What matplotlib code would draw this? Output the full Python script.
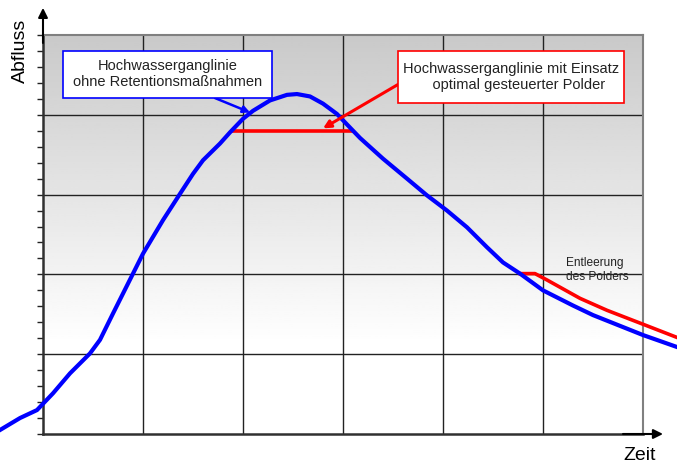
import numpy as np
import matplotlib.pyplot as plt
from matplotlib.ticker import MultipleLocator
from matplotlib.patches import Rectangle

plt.rcParams['font.family'] = ['Liberation Sans', 'DejaVu Sans']

# Hydrograph without retention (time, discharge in grid units)
t_ohne = [-0.43, -0.23, -0.06, 0.10, 0.27, 0.47, 0.57, 0.70, 0.90, 1.00,
          1.20, 1.37, 1.50, 1.60, 1.77, 1.87, 2.00, 2.10, 2.27, 2.44, 2.54,
          2.67, 2.80, 2.94, 3.07, 3.17, 3.40, 3.64, 3.84, 4.04, 4.24, 4.44,
          4.60, 4.77, 5.00, 5.30, 5.50, 5.80, 6.00, 6.34]
q_ohne = [0.05, 0.20, 0.30, 0.51, 0.76, 1.01, 1.18, 1.51, 2.01, 2.26,
          2.68, 3.01, 3.26, 3.43, 3.64, 3.78, 3.95, 4.05, 4.18, 4.25, 4.26,
          4.23, 4.14, 4.01, 3.84, 3.71, 3.45, 3.20, 2.99, 2.80, 2.59, 2.34,
          2.15, 2.01, 1.80, 1.61, 1.49, 1.34, 1.24, 1.09]

# Hydrograph with polder: capped peak and emptying tail
t_kappe = [1.89, 3.10]
q_kappe = [3.80, 3.80]
t_entl = [4.77, 4.92, 5.04, 5.37, 5.64, 5.97, 6.34]
q_entl = [2.01, 2.01, 1.93, 1.70, 1.55, 1.39, 1.21]

W, H = 677, 467
fig = plt.figure(figsize=(W / 100, H / 100), dpi=100)
ax = fig.add_axes([43 / W, (H - 434) / H, 600 / W, 399 / H])
ax.set_xlim(0, 6)
ax.set_ylim(0, 5)

# gray gradient background, white at the bottom, gray at the top
grad = np.clip(np.linspace(1.06, 0.79, 200), 0, 1).reshape(-1, 1)
ax.imshow(grad, extent=(0, 6, 0, 5), aspect='auto', cmap='gray',
          vmin=0, vmax=1, origin='lower', zorder=0)

for xv in range(1, 6):
    ax.axvline(xv, color='#222222', lw=1.0, zorder=1)
for yv in range(1, 5):
    ax.axhline(yv, color='#222222', lw=1.0, zorder=1)

for s in ['top', 'right']:
    ax.spines[s].set_color('#808080')
    ax.spines[s].set_linewidth(1.5)
for s in ['left', 'bottom']:
    ax.spines[s].set_color('#303030')
    ax.spines[s].set_linewidth(1.8)

ax.yaxis.set_major_locator(MultipleLocator(1))
ax.yaxis.set_minor_locator(MultipleLocator(0.2))
ax.tick_params(axis='y', which='both', direction='out', length=4, width=1,
               labelleft=False, color='#222222')
ax.set_xticks([])

ax.plot(t_kappe, q_kappe, color='#ff0000', lw=2.6, clip_on=False, zorder=3,
        solid_capstyle='butt')
ax.plot(t_entl, q_entl, color='#ff0000', lw=2.6, clip_on=False, zorder=3,
        solid_joinstyle='round')
ax.plot(t_ohne, q_ohne, color='#0000ff', lw=3.0, clip_on=False, zorder=4,
        solid_joinstyle='round')

# axis arrows
ax.annotate('', xy=(0, 5.34), xytext=(0, 4.9), annotation_clip=False,
            arrowprops=dict(arrowstyle='-|>', color='black', lw=1.5,
                            mutation_scale=14, shrinkA=0, shrinkB=0))
ax.annotate('', xy=(6.2, 0), xytext=(5.8, 0), annotation_clip=False,
            arrowprops=dict(arrowstyle='-|>', color='black', lw=1.5,
                            mutation_scale=14, shrinkA=0, shrinkB=0))

fig.text(20 / W, 1 - 51 / H, 'Abfluss', rotation=90, fontsize=14,
         ha='center', va='center')
fig.text(640 / W, 1 - 455 / H, 'Zeit', fontsize=14, ha='center', va='center')

# callouts
ax.annotate('', xy=(2.07, 4.03), xytext=(1.72, 4.21),
            arrowprops=dict(arrowstyle='-|>', color='#0000ff', lw=1.8,
                            mutation_scale=10, shrinkA=0, shrinkB=0), zorder=5)
ax.add_patch(Rectangle((0.20, 4.21), 2.09, 0.59, fc='white', ec='#0000ff',
                       lw=1.2, zorder=6, clip_on=False))
ax.text(1.245, 4.51, 'Hochwasserganglinie\nohne Retentionsmaßnahmen',
        fontsize=10.5, ha='center', va='center', multialignment='center',
        color='#222222', zorder=7)

ax.annotate('', xy=(2.80, 3.83), xytext=(3.55, 4.38),
            arrowprops=dict(arrowstyle='-|>', color='#ff0000', lw=2.2,
                            mutation_scale=11, shrinkA=0, shrinkB=0), zorder=5)
ax.add_patch(Rectangle((3.55, 4.15), 2.26, 0.65, fc='white', ec='#ff0000',
                       lw=1.2, zorder=6, clip_on=False))
ax.text(4.68, 4.475, 'Hochwasserganglinie mit Einsatz\n    optimal gesteuerter Polder',
        fontsize=10.5, ha='center', va='center', multialignment='center',
        color='#222222', zorder=7)

ax.text(5.54, 2.06, 'Entleerung\ndes Polders', fontsize=8.6, ha='center',
        va='center', multialignment='left', color='#222222', zorder=6)

fig.savefig('out.png', dpi=100)
